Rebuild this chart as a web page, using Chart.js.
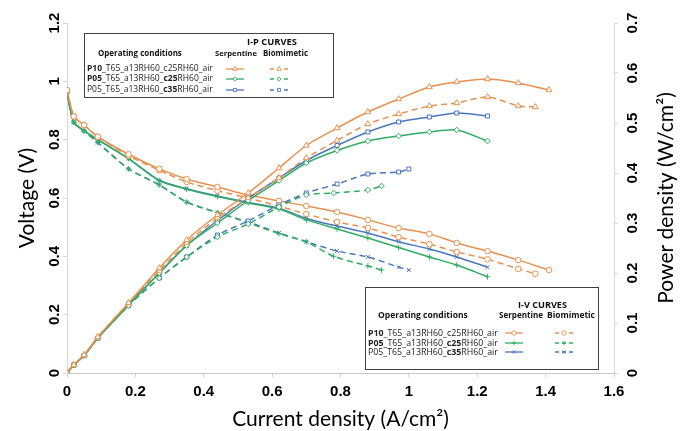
<!DOCTYPE html>
<html><head><meta charset="utf-8">
<script src="https://cdn.jsdelivr.net/npm/chart.js@4"></script>
<style>html,body{margin:0;padding:0;background:#fff}#wrap{width:683px;height:431px}</style>
</head><body><div id="wrap"><canvas id="c" width="683" height="431"></canvas></div>
<script>
// ---------- DATA ----------
const currentSerpP10 = [0,0.02,0.05,0.09,0.18,0.27,0.35,0.44,0.53,0.62,0.70,0.79,0.88,0.97,1.06,1.14,1.23,1.32,1.41];
const currentBioP10  = [0,0.02,0.05,0.09,0.18,0.27,0.35,0.44,0.53,0.62,0.70,0.79,0.88,0.97,1.06,1.14,1.23,1.32,1.37];
const currentSerpP05 = [0,0.02,0.05,0.09,0.18,0.27,0.35,0.44,0.53,0.62,0.70,0.79,0.88,0.97,1.06,1.14,1.23];
const currentBioP05c35 = [0,0.02,0.05,0.09,0.18,0.27,0.35,0.44,0.53,0.62,0.70,0.79,0.88,0.97,1.00];
const currentBioP05c25 = [0,0.02,0.05,0.09,0.18,0.27,0.35,0.44,0.53,0.62,0.70,0.78,0.88,0.92];

// I-V (Voltage, V)
const voltSerpP10    = [0.97,0.88,0.85,0.81,0.75,0.70,0.665,0.638,0.61,0.59,0.573,0.552,0.525,0.497,0.477,0.446,0.418,0.387,0.353];
const voltBioP10     = [0.97,0.88,0.85,0.81,0.745,0.695,0.655,0.625,0.60,0.572,0.545,0.518,0.497,0.466,0.442,0.415,0.39,0.357,0.34];
const voltSerpP05c25 = [0.96,0.86,0.83,0.80,0.735,0.66,0.63,0.605,0.583,0.562,0.525,0.494,0.463,0.43,0.398,0.37,0.33];
const voltSerpP05c35 = [0.96,0.86,0.83,0.80,0.735,0.66,0.632,0.607,0.585,0.565,0.53,0.504,0.48,0.45,0.425,0.398,0.363];
const voltBioP05c35  = [0.96,0.86,0.83,0.79,0.70,0.645,0.586,0.55,0.518,0.48,0.45,0.418,0.398,0.363,0.353];
const voltBioP05c25  = [0.96,0.86,0.83,0.79,0.70,0.645,0.586,0.55,0.515,0.478,0.45,0.40,0.367,0.353];

// I-P (Power density, W/cm2)
const powSerpP10    = [0,0.016,0.036,0.072,0.14,0.21,0.266,0.316,0.36,0.41,0.455,0.49,0.522,0.548,0.572,0.582,0.588,0.58,0.566];
const powBioP10     = [0,0.016,0.036,0.072,0.14,0.205,0.26,0.31,0.35,0.39,0.43,0.465,0.498,0.518,0.534,0.54,0.552,0.534,0.532];
const powSerpP05c25 = [0,0.016,0.035,0.07,0.135,0.2,0.255,0.30,0.345,0.385,0.42,0.445,0.464,0.474,0.482,0.486,0.464];
const powSerpP05c35 = [0,0.016,0.035,0.07,0.138,0.2,0.255,0.305,0.35,0.39,0.425,0.455,0.482,0.502,0.512,0.52,0.514];
const powBioP05c35  = [0,0.016,0.035,0.07,0.135,0.19,0.232,0.276,0.304,0.336,0.36,0.378,0.398,0.402,0.408];
const powBioP05c25  = [0,0.016,0.035,0.07,0.135,0.19,0.232,0.272,0.298,0.332,0.356,0.36,0.366,0.374];

const voltTicks = [0,0.2,0.4,0.6,0.8,1,1.2];
const powTicks  = [0,0.1,0.2,0.3,0.4,0.5,0.6,0.7];
const xTickLabels = ['0','0.2','0.4','0.6','0.8','1','1.2','1.4','1.6'];

const conditions = [
  [['P10',true],['_T65_a13RH60_c25RH60_air',false]],
  [['P05',true],['_T65_a13RH60_',false],['c25',true],['RH60_air',false]],
  [['P05_T65_a13RH60_',false],['c35',true],['RH60_air',false]]
];

// ---------- STYLE ----------
const ORANGE = '#E8904E', GREEN = '#2FAE62', BLUE = '#4A76BE';
const pts = (xs, ys) => xs.map((x, i) => ({x, y: ys[i]}));

function ds(label, xs, ys, color, style, dashed, axis) {
  return {
    label, data: pts(xs, ys), yAxisID: axis, showLine: true,
    borderColor: color, backgroundColor: '#ffffff', borderWidth: 1.5,
    borderDash: dashed ? [6, 4] : [],
    pointStyle: style, pointRadius: style === 'triangle' ? 3.4 : 2.8,
    pointBorderColor: color, pointBackgroundColor: '#ffffff', pointBorderWidth: 1,
    tension: 0.25
  };
}

const datasets = [
  ds('P10 serp I-P', currentSerpP10, powSerpP10, ORANGE, 'triangle', false, 'yP'),
  ds('P10 bio I-P', currentBioP10, powBioP10, ORANGE, 'triangle', true, 'yP'),
  ds('P05c25 serp I-P', currentSerpP05, powSerpP05c25, GREEN, 'rectRot', false, 'yP'),
  ds('P05c25 bio I-P', currentBioP05c25, powBioP05c25, GREEN, 'rectRot', true, 'yP'),
  ds('P05c35 serp I-P', currentSerpP05, powSerpP05c35, BLUE, 'rect', false, 'yP'),
  ds('P05c35 bio I-P', currentBioP05c35, powBioP05c35, BLUE, 'rect', true, 'yP'),
  ds('P10 serp I-V', currentSerpP10, voltSerpP10, ORANGE, 'circle', false, 'yV'),
  ds('P10 bio I-V', currentBioP10, voltBioP10, ORANGE, 'circle', true, 'yV'),
  ds('P05c25 serp I-V', currentSerpP05, voltSerpP05c25, GREEN, 'cross', false, 'yV'),
  ds('P05c25 bio I-V', currentBioP05c25, voltBioP05c25, GREEN, 'cross', true, 'yV'),
  ds('P05c35 serp I-V', currentSerpP05, voltSerpP05c35, BLUE, 'crossRot', false, 'yV'),
  ds('P05c35 bio I-V', currentBioP05c35, voltBioP05c35, BLUE, 'crossRot', true, 'yV')
];

const TICKFONT = 'bold 15px "Liberation Sans", Arial, sans-serif';
const TITLEFONT = '21px Lato, "Open Sans", sans-serif';
const LEGFAMILY = '"Open Sans", Lato, sans-serif';

function legendSample(ctx, cx, cy, color, dashed, style) {
  ctx.save();
  ctx.strokeStyle = color; ctx.lineWidth = 1.3;
  ctx.setLineDash(dashed ? [4, 3] : []);
  ctx.beginPath(); ctx.moveTo(cx - 9, cy); ctx.lineTo(cx + 9, cy); ctx.stroke();
  ctx.setLineDash([]);
  ctx.fillStyle = '#fff'; ctx.strokeStyle = color; ctx.lineWidth = 0.9;
  Chart.helpers.drawPoint(ctx, {pointStyle: style, radius: style === 'triangle' ? 2.6 : 2.2, rotation: 0, borderWidth: 0.9}, cx, cy);
  ctx.restore();
}

function segWidth(ctx, segs, size) {
  let w = 0;
  for (const [t, b] of segs) { ctx.font = (b ? 'bold ' : '') + size + 'px ' + LEGFAMILY; w += ctx.measureText(t).width; }
  return w;
}
function fitText(ctx, x, y, segs, targetW) {
  const size = 10 * targetW / segWidth(ctx, segs, 10);
  let cx = x;
  for (const [t, b] of segs) {
    ctx.font = (b ? 'bold ' : '') + size + 'px ' + LEGFAMILY;
    ctx.fillText(t, cx, y);
    cx += ctx.measureText(t).width;
  }
}

function drawLegend(ctx, L, title, styles) {
  ctx.save();
  ctx.fillStyle = '#fff'; ctx.fillRect(L.x, L.y, L.w, L.h);
  ctx.strokeStyle = '#404040'; ctx.lineWidth = 1;
  ctx.strokeRect(L.x + 0.5, L.y + 0.5, L.w, L.h);
  ctx.textBaseline = 'middle'; ctx.textAlign = 'left'; ctx.fillStyle = '#111';
  fitText(ctx, L.titleX, L.y + L.titleDy, [[title, true]], L.titleW);
  fitText(ctx, L.condX, L.y + L.headDy, [['Operating conditions', true]], L.condW);
  fitText(ctx, L.serpX, L.y + L.headDy, [['Serpentine', true]], L.serpW);
  fitText(ctx, L.bioX, L.y + L.headDy, [['Biomimetic', true]], L.bioW);
  const colors = [ORANGE, GREEN, BLUE];
  for (let i = 0; i < 3; i++) {
    const ry = L.y + L.rowDy[i];
    ctx.fillStyle = '#222';
    fitText(ctx, L.textX, ry, conditions[i], L.rowW);
    legendSample(ctx, L.serpC, ry, colors[i], false, styles[i]);
    legendSample(ctx, L.bioC, ry, colors[i], true, styles[i]);
  }
  ctx.restore();
}

const decor = {
  id: 'decor',
  afterDraw(chart) {
    const ctx = chart.ctx, ca = chart.chartArea;
    const sV = chart.scales.yV, sP = chart.scales.yP, sX = chart.scales.x;
    ctx.save();
    ctx.fillStyle = '#000'; ctx.font = TICKFONT; ctx.textAlign = 'center'; ctx.textBaseline = 'middle';
    voltTicks.forEach(v => {
      ctx.save(); ctx.translate(ca.left - 12, sV.getPixelForValue(v)); ctx.rotate(-Math.PI / 2);
      ctx.fillText(String(v), 0, 0); ctx.restore();
    });
    powTicks.forEach(v => {
      ctx.save(); ctx.translate(ca.right + 19, sP.getPixelForValue(v)); ctx.rotate(-Math.PI / 2);
      ctx.fillText(String(v), 0, 0); ctx.restore();
    });
    ctx.font = TITLEFONT; ctx.fillStyle = '#000';
    const cy = (ca.top + ca.bottom) / 2;
    ctx.save(); ctx.translate(27, cy); ctx.rotate(-Math.PI / 2); ctx.fillText('Voltage (V)', 0, 0); ctx.restore();
    ctx.save(); ctx.translate(666, cy); ctx.rotate(-Math.PI / 2); ctx.fillText('Power density (W/cm²)', 0, 0); ctx.restore();
    ctx.fillText('Current density (A/cm²)', (sX.getPixelForValue(0) + sX.getPixelForValue(1.6)) / 2, 419);
    ctx.restore();
    drawLegend(ctx, {x: 84, y: 33, w: 249, h: 64, titleX: 247, titleW: 50, titleDy: 9,
      condX: 98, condW: 84, serpX: 215, serpW: 42, bioX: 263, bioW: 45, headDy: 21,
      textX: 87, rowW: 126, rowDy: [36, 46, 57], serpC: 235, bioC: 279}, 'I-P CURVES', ['triangle', 'rectRot', 'rect']);
    drawLegend(ctx, {x: 365, y: 287, w: 233, h: 82, titleX: 518, titleW: 49, titleDy: 18,
      condX: 378, condW: 90, serpX: 499, serpW: 44, bioX: 547, bioW: 48, headDy: 29,
      textX: 368, rowW: 130, rowDy: [46, 56, 65], serpC: 514, bioC: 564}, 'I-V CURVES', ['circle', 'cross', 'crossRot']);
  }
};

new Chart(document.getElementById('c'), {
  type: 'scatter',
  data: {datasets},
  options: {
    responsive: false, animation: false, devicePixelRatio: 1,
    layout: {padding: {top: 23, left: 0, right: 0, bottom: 0}},
    plugins: {legend: {display: false}, tooltip: {enabled: false}},
    scales: {
      x: {
        type: 'linear', min: 0, max: 1.6,
        afterFit: s => { s.height = 58; },
        ticks: {stepSize: 0.2, color: '#000', font: {family: '"Liberation Sans", Arial, sans-serif', size: 15, weight: 'bold'},
          padding: 6, callback: (v, i) => xTickLabels[i] },
        grid: {display: true, drawOnChartArea: false, tickLength: 4, color: '#d0d0d0'},
        border: {color: '#c8c8c8'}
      },
      yV: {
        type: 'linear', position: 'left', min: 0, max: 1.2,
        afterFit: s => { s.width = 67; },
        ticks: {stepSize: 0.2, display: false},
        grid: {display: true, drawOnChartArea: false, tickLength: 4, color: '#d8d8d8'},
        border: {color: '#d8d8d8'}
      },
      yP: {
        type: 'linear', position: 'right', min: 0, max: 0.7,
        afterFit: s => { s.width = 69; },
        ticks: {stepSize: 0.1, display: false},
        grid: {display: true, drawOnChartArea: false, tickLength: 4, color: '#d8d8d8'},
        border: {color: '#d8d8d8'}
      }
    }
  },
  plugins: [decor]
});
</script></body></html>
